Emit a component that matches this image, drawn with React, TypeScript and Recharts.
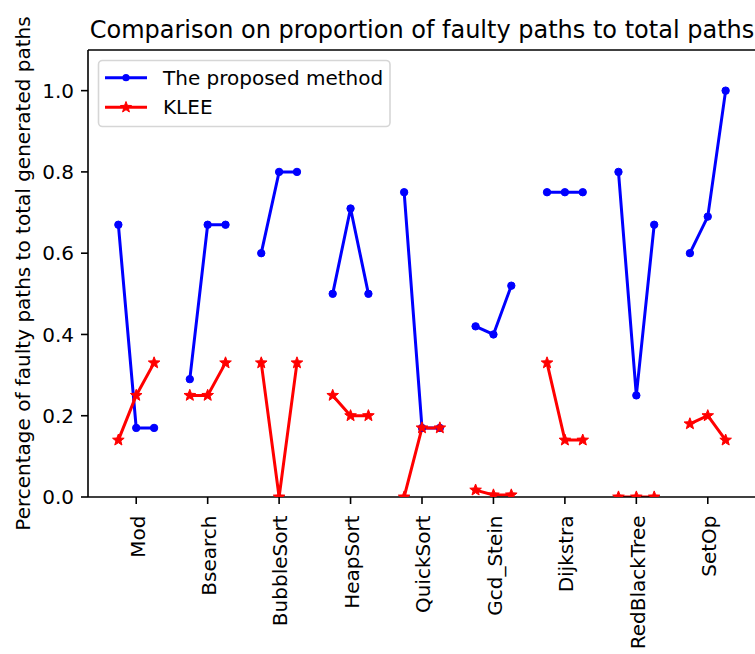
import React from "react"
import { LineChart, Line, XAxis, YAxis, ReferenceLine } from "recharts"

const categories = ["Mod", "Bsearch", "BubbleSort", "HeapSort", "QuickSort", "Gcd_Stein", "Dijkstra", "RedBlackTree", "SetOp"]
// three runs per program, left / middle / right of each tick
const proposed = [
  [0.67, 0.17, 0.17], [0.29, 0.67, 0.67], [0.6, 0.8, 0.8], [0.5, 0.71, 0.5], [0.75, 0.17, 0.17],
  [0.42, 0.4, 0.52], [0.75, 0.75, 0.75], [0.8, 0.25, 0.67], [0.6, 0.69, 1.0],
]
const klee = [
  [0.14, 0.25, 0.33], [0.25, 0.25, 0.33], [0.33, 0.0, 0.33], [0.25, 0.2, 0.2], [0.0, 0.17, 0.17],
  [0.017, 0.005, 0.005], [0.33, 0.14, 0.14], [0.0, 0.0, 0.0], [0.18, 0.2, 0.14],
]
const runOffsets = [-0.25, 0, 0.25]
const yTicks = [0, 0.2, 0.4, 0.6, 0.8, 1.0]
const xTicks = categories.map((_, i) => i + 1)

const FONT = "DejaVu Sans"
const BLUE = "#0000ff"
const RED = "#ff0000"

// null rows between groups break the line into one segment per program
const data = categories.flatMap((_, i) => [
  ...runOffsets.map((o, j) => ({ x: i + 1 + o, proposed: proposed[i][j], klee: klee[i][j] })),
  { x: i + 1.5, proposed: null, klee: null },
])

const starPoints = (cx: number, cy: number, R: number, r: number) => {
  const pts: string[] = []
  for (let k = 0; k < 10; k++) {
    const a = ((-90 + k * 36) * Math.PI) / 180
    const rad = k % 2 ? r : R
    pts.push(`${cx + rad * Math.cos(a)},${cy + rad * Math.sin(a)}`)
  }
  return pts.join(" ")
}

const BlueDot = (p: any) => {
  if (p.cy == null || p.payload?.proposed == null) return null
  return <circle key={p.key} cx={p.cx} cy={p.cy} r={3.7} fill={BLUE} stroke={BLUE} strokeWidth={1} />
}

const RedStar = (p: any) => {
  if (p.cy == null || p.payload?.klee == null) return null
  return <polygon key={p.key} points={starPoints(p.cx, p.cy, 6.1, 2.6)} fill={RED} stroke={RED} strokeWidth={1} />
}

const XTick = ({ x, y, payload }: any) => (
  <text x={0} y={0} dy={8.3} transform={`translate(${x},${y}) rotate(-90)`} textAnchor="end" fontFamily={FONT} fontSize={20} fill="#000">
    {categories[Math.round(payload.value) - 1]}
  </text>
)

export default function App() {
  return (
    <div style={{ position: "absolute", left: 0, top: 0, width: 755, height: 654, overflow: "hidden", background: "#fff" }}>
      <LineChart width={770} height={654} data={data} margin={{ top: 50, right: 14, left: 0, bottom: 0 }}>
        <XAxis
          dataKey="x" type="number" domain={[0.325, 9.675]} ticks={xTicks} allowDataOverflow
          height={157} tickSize={7} tickMargin={11.5} tick={<XTick />} interval={0}
          axisLine={{ stroke: "#000", strokeWidth: 1.6 }} tickLine={{ stroke: "#000", strokeWidth: 1.6 }}
        />
        <YAxis
          type="number" domain={[0, 1.1]} ticks={yTicks} allowDataOverflow width={88}
          tickSize={7} tickMargin={7} tickFormatter={(v) => v.toFixed(1)}
          tick={{ fill: "#000", fontSize: 20, fontFamily: FONT }}
          axisLine={{ stroke: "#000", strokeWidth: 1.6 }} tickLine={{ stroke: "#000", strokeWidth: 1.6 }}
        />
        <ReferenceLine y={1.1} stroke="#000" strokeWidth={1.6} />
        <ReferenceLine x={9.675} stroke="#000" strokeWidth={1.6} />
        <Line dataKey="proposed" stroke={BLUE} strokeWidth={3} dot={BlueDot} activeDot={false} connectNulls={false} isAnimationActive={false} />
        <Line dataKey="klee" stroke={RED} strokeWidth={3} dot={RedStar} activeDot={false} connectNulls={false} isAnimationActive={false} />
      </LineChart>
      <svg width={755} height={654} style={{ position: "absolute", left: 0, top: 0, pointerEvents: "none" }}>
        <text x={422} y={37.5} textAnchor="middle" fontFamily={FONT} fontSize={24} fill="#000">
          Comparison on proportion of faulty paths to total paths
        </text>
        <text transform="translate(30,273.5) rotate(-90)" textAnchor="middle" fontFamily={FONT} fontSize={20} fill="#000">
          Percentage of faulty paths to total generated paths
        </text>
        <rect x={98.5} y={60.5} width={291.5} height={66} rx={4} fill="#fff" fillOpacity={0.8} stroke="#d6d6d6" strokeWidth={1.6} />
        <line x1={105} x2={147} y1={77.7} y2={77.7} stroke={BLUE} strokeWidth={3} />
        <circle cx={126} cy={77.7} r={3.6} fill={BLUE} />
        <text x={163} y={77.7} dy="0.35em" fontFamily={FONT} fontSize={20} fill="#000">The proposed method</text>
        <line x1={105} x2={147} y1={107.3} y2={107.3} stroke={RED} strokeWidth={3} />
        <polygon points={starPoints(126, 107.3, 5.8, 2.4)} fill={RED} stroke={RED} strokeWidth={1} />
        <text x={163} y={107.3} dy="0.35em" fontFamily={FONT} fontSize={20} fill="#000">KLEE</text>
      </svg>
    </div>
  )
}
